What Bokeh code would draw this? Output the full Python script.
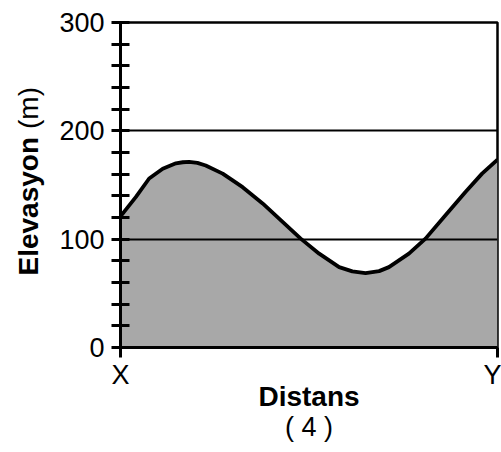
import math
from bokeh.plotting import figure
from bokeh.models import Range1d, FixedTicker, Title
from bokeh.layouts import row
from bokeh.core.properties import value
from bokeh.embed import file_html
from bokeh.resources import INLINE

# distance (0 = X, 1 = Y) and elevation (m)
distance = [0.0, 0.041, 0.076, 0.112, 0.147, 0.165, 0.182, 0.204, 0.226, 0.271, 0.324,
            0.377, 0.430, 0.478, 0.527, 0.580, 0.615, 0.650, 0.686, 0.712, 0.765, 0.809,
            0.862, 0.915, 0.959, 1.000]
elevation = [121, 139, 156, 165, 170, 171, 171.3, 170.4, 168, 160.5, 148,
             133, 116, 100.5, 86.6, 74.2, 70.3, 68.7, 70.5, 74.2, 86.6, 100.5,
             122, 143.6, 160.5, 173.5]

y_major = [0, 100, 200, 300]
y_minor = [20, 40, 60, 80, 120, 140, 160, 180, 220, 240, 260, 280]
x_ticks = [0, 1]
x_tick_labels = {0: "X", 1: "Y"}
grid_lines = [100, 200]
y_title_bold = "Elevasyon"
y_title_unit = "(m)"
x_title = "Distans"
caption = "( 4 )"

FONT = "Liberation Sans"
H = 450

# ---- main chart
p = figure(width=451, height=H, output_backend="svg", toolbar_location=None,
           x_range=Range1d(0, 1), y_range=Range1d(0, 300),
           min_border_left=70, min_border_right=4, min_border_top=22, min_border_bottom=103)
p.background_fill_color = "white"
p.border_fill_color = "white"
p.outline_line_color = "black"
p.outline_line_width = 2.5

p.varea(x=distance, y1=0, y2=elevation, fill_color="#a8a8a8", level="image")
p.line(x=distance, y=elevation, line_color="black", line_width=3.8, line_join="round")

p.xgrid.visible = False
p.ygrid.ticker = FixedTicker(ticks=grid_lines)
p.ygrid.grid_line_color = "black"
p.ygrid.grid_line_width = 2

ya = p.yaxis[0]
ya.ticker = FixedTicker(ticks=y_major, minor_ticks=y_minor)
ya.axis_line_width = 3
ya.major_tick_line_width = 3
ya.minor_tick_line_width = 3
ya.major_tick_in = 9
ya.major_tick_out = 9
ya.minor_tick_in = 9
ya.minor_tick_out = 9
ya.major_label_standoff = 7
ya.major_label_text_font = FONT
ya.major_label_text_font_size = "27px"
ya.major_label_text_color = "black"

xa = p.xaxis[0]
xa.ticker = FixedTicker(ticks=x_ticks, minor_ticks=[])
xa.major_label_overrides = x_tick_labels
xa.axis_line_width = 3
xa.major_tick_line_width = 3
xa.major_tick_in = 0
xa.major_tick_out = 10
xa.minor_tick_in = 0
xa.minor_tick_out = 0
xa.major_label_standoff = 2
xa.major_label_text_font = FONT
xa.major_label_text_font_size = "27px"
xa.major_label_text_color = "black"
xa.axis_label = x_title
xa.axis_label_text_font = FONT
xa.axis_label_text_font_size = "28px"
xa.axis_label_text_font_style = "bold"
xa.axis_label_text_color = "black"
xa.axis_label_standoff = -12

p.add_layout(Title(text=caption, align="center", text_font=FONT, text_font_size="27px",
                   text_font_style="normal", text_color="black", standoff=-9), "below")

# ---- left strip with the rotated y title (bold name + regular unit)
TOP = 22          # height taken by the strip's empty title panel
FH = H - TOP      # frame height of the strip
side = figure(frame_width=50, frame_height=FH, output_backend="svg", toolbar_location=None,
              x_range=Range1d(0, 50), y_range=Range1d(0, FH), min_border=0,
              x_axis_location=None, y_axis_location=None)
side.grid.visible = False
side.outline_line_color = None
side.background_fill_color = "white"
side.border_fill_color = "white"
# text anchors: page rows 275 (bold name start) and 128.5 (unit start)
side.text(x=[28], y=[FH - (275 - TOP)], text=[y_title_bold], angle=math.pi / 2,
          text_align="left", text_baseline="middle", text_font=value(FONT),
          text_font_size="28px", text_font_style="bold", text_color="black")
side.text(x=[28], y=[FH - (128.5 - TOP)], text=[y_title_unit], angle=math.pi / 2,
          text_align="left", text_baseline="middle", text_font=value(FONT),
          text_font_size="28px", text_font_style="normal", text_color="black")

layout = row(side, p)
open("out.html", "w").write(file_html(layout, INLINE))
